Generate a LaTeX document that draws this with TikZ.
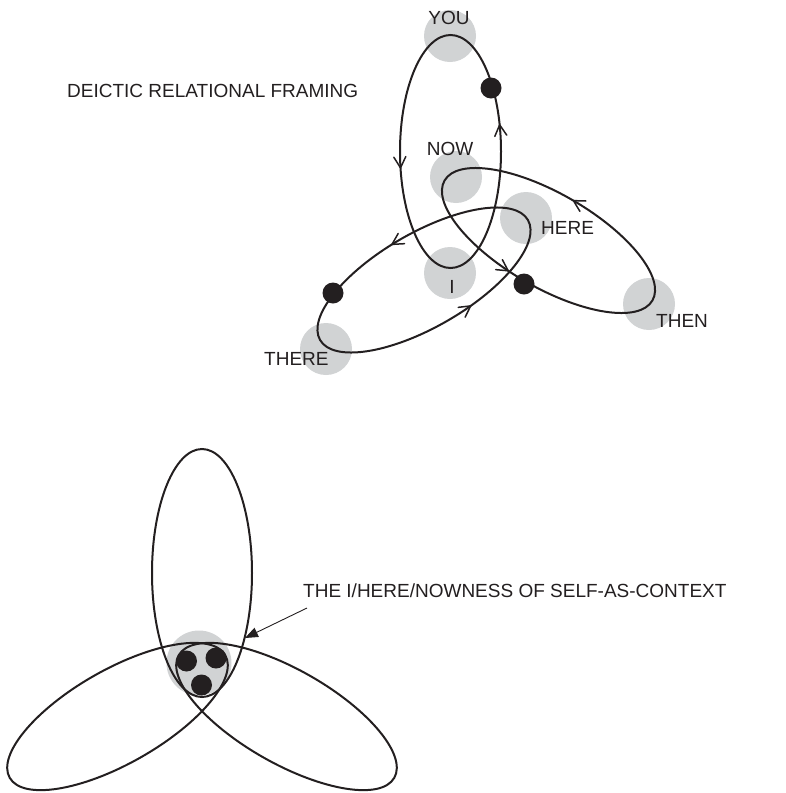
\documentclass[tikz,border=0pt]{standalone}
\usepackage{fontspec}
\setmainfont{Liberation Sans}
\usetikzlibrary{arrows.meta,decorations.markings}
\definecolor{ink}{HTML}{231F20}
\definecolor{disc}{HTML}{D1D3D4}
\tikzset{
  loopline/.style={draw=ink, line width=2pt},
  halo/.style={circle, fill=disc, draw=none, minimum size=52pt, inner sep=0pt},
  bighalo/.style={halo, minimum size=65pt},
  bigdot/.style={circle, fill=ink, draw=none, minimum size=21pt, inner sep=0pt},
  lbl/.style={font=\fontsize{19}{22}\selectfont, text=ink, inner sep=0pt},
  barbline/.style={draw=ink, line width=1.5pt, line cap=round, line join=miter},
  twobarbs/.style 2 args={postaction={decorate, decoration={markings,
      mark=at position #1 with {\draw[barbline] (-11pt,6pt) -- (0pt,0pt) -- (-11pt,-6pt);},
      mark=at position #2 with {\draw[barbline] (-11pt,6pt) -- (0pt,0pt) -- (-11pt,-6pt);}}}}
}
\begin{document}
\begin{tikzpicture}[x=1pt,y=1pt]
\useasboundingbox (0,0) rectangle (786,-793);

% ---------- top figure: grey discs ----------
\node[halo] (dyou)   at (450,-36)  {};
\node[halo] (dnow)   at (456,-177) {};
\node[halo] (dhere)  at (526,-218) {};
\node[halo] (di)     at (450,-273) {};
\node[halo] (dthere) at (326,-349) {};
\node[halo] (dthen)  at (649,-304) {};

% ---------- top figure: loops ----------
\draw[loopline, twobarbs={0.049}{0.530}] (450.5,-151.5) ellipse [x radius=50.5, y radius=116.5];
\draw[loopline, shift={(424,-280)}, rotate=30, twobarbs={0.268}{0.800}] (0,0) ellipse [x radius=120, y radius=47];
\draw[loopline, shift={(548.5,-240.5)}, rotate=-30, twobarbs={0.247}{0.714}] (0,0) ellipse [x radius=120, y radius=47];

% ---------- top figure: dots ----------
\node[bigdot] (kyou)   at (491,-88)  {};
\node[bigdot] (kthere) at (333,-293) {};
\node[bigdot] (kthen)  at (524,-284) {};

% ---------- top figure: labels ----------
\node[lbl, anchor=base west] (title) at (67,-97.5) {DEICTIC RELATIONAL FRAMING};
\node[lbl, anchor=base] (tyou) at (449,-24) {YOU};
\node[lbl, anchor=base] (tnow) at (450,-155) {NOW};
\node[lbl, anchor=base west] (there) at (541,-234) {HERE};
\node[lbl, anchor=base] (ti) at (452,-293) {I};
\node[lbl, anchor=base west] (tthere) at (264,-365) {THERE};
\node[lbl, anchor=base west] (tthen) at (656,-327) {THEN};

% ---------- bottom figure ----------
\node[bighalo] (dself) at (199,-663) {};
\draw[loopline] (202,-573) ellipse [x radius=50, y radius=124];
\draw[loopline, shift={(117.5,-716.5)}, rotate=29.6] (0,0) ellipse [x radius=124, y radius=47];
\draw[loopline, shift={(286.5,-716.5)}, rotate=-29.6] (0,0) ellipse [x radius=124, y radius=47];
\node[bigdot] (sa) at (186.5,-661) {};
\node[bigdot] (sb) at (216,-658) {};
\node[bigdot] (sc) at (201.5,-685) {};

\node[lbl, anchor=base west] (self) at (303,-597) {THE I/HERE/NOWNESS OF SELF-AS-CONTEXT};
\coordinate (astart) at (307,-608);
\coordinate (atip) at (245,-638);
\draw[ink, line width=0.9pt, -{Triangle[length=13pt,width=10pt]}] (astart) -- (atip);
\end{tikzpicture}
\end{document}
